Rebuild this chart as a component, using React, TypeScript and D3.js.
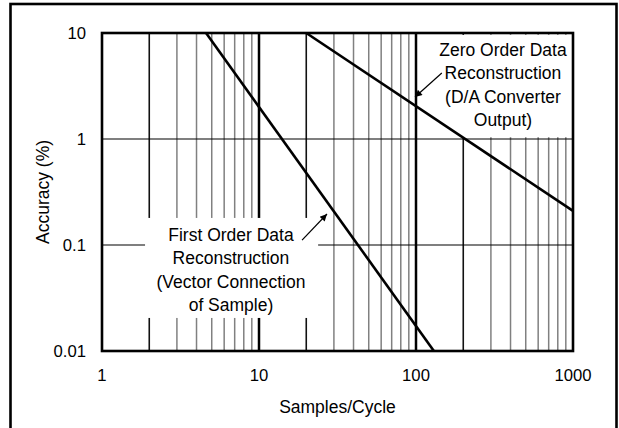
import React from "react";
import * as d3 from "d3";

const xTickValues = [1, 10, 100, 1000];
const xTickLabels = ["1", "10", "100", "1000"];
const yTickValues = [0.01, 0.1, 1, 10];
const yTickLabels = ["0.01", "0.1", "1", "10"];

const zeroOrder = [
  { n: 20, a: 10 },
  { n: 1000, a: 0.21 },
];
const firstOrder = [
  { n: 4.6, a: 10 },
  { n: 130, a: 0.01 },
];

const zeroLabelLines = ["Zero Order Data", "Reconstruction", "(D/A Converter", "Output)"];
const firstLabelLines = ["First Order Data", "Reconstruction", "(Vector Connection", "of Sample)"];

// annotation anchors in data space
const zeroLabel = { n: 358, a: 6.07, box: [114, 1000, 9.6, 1.04], tail: [146, 4.2], tip: [98.6, 2.49] };
const firstLabel = { n: 6.63, a: 0.109, box: [1.88, 23.8, 0.18, 0.0205], tail: [18.8, 0.111], tip: [27.1, 0.196] };

const W = 619;
const H = 428;
const M = { left: 102, right: 573, top: 33, bottom: 351 };
const FONT = "'Liberation Sans', Arial, Helvetica, sans-serif";

export default function App() {
  const x = d3.scaleLog().domain([1, 1000]).range([M.left, M.right]);
  const y = d3.scaleLog().domain([0.01, 10]).range([M.bottom, M.top]);
  const line = d3
    .line<{ n: number; a: number }>()
    .x((d) => x(d.n))
    .y((d) => y(d.a));

  const allX = x.ticks();
  const vLines = allX.filter((v) => v > 1 && v < 1000);

  const lineStyle = (v: number) => {
    const m = Math.round(v / Math.pow(10, Math.floor(Math.log10(v) + 1e-9)));
    if (m === 1) return { stroke: "#000", w: 2.5 };
    if (m === 2) return { stroke: "#111", w: 1.6 };
    return { stroke: "#808080", w: 1.5 };
  };

  const labelBlock = (
    lab: typeof zeroLabel,
    lines: string[],
    key: string
  ) => {
    const cx = x(lab.n);
    const by = y(lab.a);
    return (
      <g key={key}>
        {lines.map((t, i) => (
          <text
            key={i}
            x={cx}
            y={by + i * 23.3}
            textAnchor="middle"
            fontSize={17.5}
            fontFamily={FONT}
            fill="#000"
          >
            {t}
          </text>
        ))}
      </g>
    );
  };

  const box = (lab: typeof zeroLabel, key: string) => {
    const [x0, x1, y0, y1] = lab.box;
    return (
      <rect
        key={key}
        x={x(x0)}
        y={y(y0)}
        width={x(x1) - x(x0)}
        height={y(y1) - y(y0)}
        fill="#fff"
      />
    );
  };

  const arrow = (lab: typeof zeroLabel, key: string) => (
    <line
      key={key}
      x1={x(lab.tail[0])}
      y1={y(lab.tail[1])}
      x2={x(lab.tip[0])}
      y2={y(lab.tip[1])}
      stroke="#000"
      strokeWidth={1.2}
      markerEnd="url(#arrowHead)"
    />
  );

  return (
    <svg
      width={W}
      height={H}
      style={{ position: "absolute", left: 0, top: 0, background: "#fff" }}
    >
      <defs>
        <marker
          id="arrowHead"
          viewBox="0 0 10 10"
          refX="10"
          refY="5"
          markerWidth="11"
          markerHeight="7"
          markerUnits="userSpaceOnUse"
          orient="auto"
        >
          <path d="M0,0 L10,5 L0,10 z" fill="#000" />
        </marker>
      </defs>
      <rect x={0} y={0} width={W} height={H} fill="#fff" />
      {/* outer frame */}
      <rect x={10.5} y={4} width={606} height={440} fill="none" stroke="#000" strokeWidth={2.6} />

      {/* vertical grid */}
      {vLines.map((v, i) => {
        const s = lineStyle(v);
        return (
          <line
            key={"v" + i}
            x1={x(v)}
            x2={x(v)}
            y1={M.top}
            y2={M.bottom}
            stroke={s.stroke}
            strokeWidth={s.w}
          />
        );
      })}
      {/* horizontal grid */}
      {yTickValues
        .filter((v) => v > 0.01 && v < 10)
        .map((v, i) => (
          <line
            key={"h" + i}
            x1={M.left}
            x2={M.right}
            y1={y(v)}
            y2={y(v)}
            stroke="#000"
            strokeWidth={1.1}
          />
        ))}

      {box(zeroLabel, "bz")}
      {box(firstLabel, "bf")}

      {/* curves */}
      <path d={line(zeroOrder) || ""} fill="none" stroke="#000" strokeWidth={2.6} />
      <path d={line(firstOrder) || ""} fill="none" stroke="#000" strokeWidth={2.6} />

      {/* plot frame */}
      <rect
        x={M.left}
        y={M.top}
        width={M.right - M.left}
        height={M.bottom - M.top}
        fill="none"
        stroke="#000"
        strokeWidth={2.6}
      />

      {arrow(zeroLabel, "az")}
      {arrow(firstLabel, "af")}

      {labelBlock(zeroLabel, zeroLabelLines, "lz")}
      {labelBlock(firstLabel, firstLabelLines, "lf")}

      {/* y ticks */}
      {yTickValues.map((v, i) => (
        <text
          key={"yt" + i}
          x={86}
          y={y(v) + 6}
          textAnchor="end"
          fontSize={16.7}
          fontFamily={FONT}
          fill="#000"
        >
          {yTickLabels[i]}
        </text>
      ))}
      {/* x ticks */}
      {xTickValues.map((v, i) => (
        <text
          key={"xt" + i}
          x={x(v)}
          y={M.bottom + 30}
          textAnchor="middle"
          fontSize={16.7}
          fontFamily={FONT}
          fill="#000"
        >
          {xTickLabels[i]}
        </text>
      ))}
      <text
        x={(M.left + M.right) / 2}
        y={413}
        textAnchor="middle"
        fontSize={17.5}
        fontFamily={FONT}
        fill="#000"
      >
        Samples/Cycle
      </text>
      <text
        transform={`translate(49,${(M.top + M.bottom) / 2}) rotate(-90)`}
        textAnchor="middle"
        fontSize={17.5}
        fontFamily={FONT}
        fill="#000"
      >
        Accuracy (%)
      </text>
    </svg>
  );
}
